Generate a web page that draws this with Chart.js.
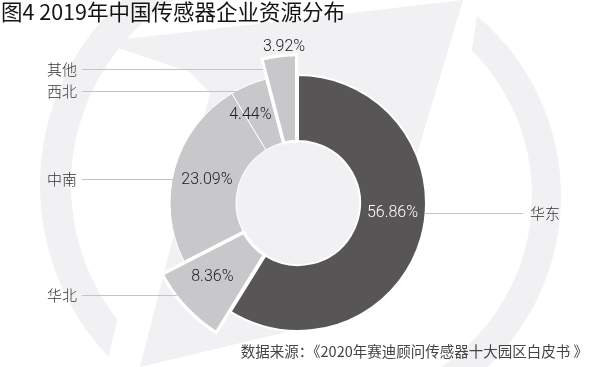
<!DOCTYPE html>
<html lang="zh-CN">
<head>
<meta charset="UTF-8">
<title>图4 2019年中国传感器企业资源分布</title>
<script src="https://cdn.jsdelivr.net/npm/chart.js"></script>
<style>
    * { margin: 0; padding: 0; box-sizing: border-box; }
    body {
        width: 600px;
        height: 367px;
        overflow: hidden;
        background: #fff;
        font-family: 'Noto Sans CJK SC', sans-serif;
    }
    .wrap { position: relative; width: 600px; height: 367px; }
    .wrap svg, .wrap canvas { position: absolute; left: 0; top: 0; }
    .title {
        position: absolute;
        left: 1px;
        top: -2px;
        font-size: 21.5px;
        line-height: 26px;
        font-weight: 400;
        color: #141414;
        white-space: nowrap;
    }
    .source {
        position: absolute;
        right: 12px;
        top: 341px;
        font-size: 14.5px;
        line-height: 20px;
        color: #444;
        white-space: nowrap;
    }
</style>
</head>
<body>
<div class="wrap">
    <!-- faint background watermark -->
    <svg width="600" height="367" viewBox="0 0 600 367">
        <g fill="#f1f1f3">
            <path d="M 108.4 356.8 A 250 250 0 0 1 225.3 -56.5 L 233.3 -26.5 A 219 219 0 0 0 117.4 319.8 Z"/>
            <path d="M 477.1 16 A 235 235 0 0 1 443.5 399.5 L 429 374.4 A 206 206 0 0 0 471.7 50.3 Z"/>
            <polygon points="100,42 463,0 370,312 140,367 210,93 190,72"/>
        </g>
    </svg>
    <canvas id="ringMain" width="600" height="367"></canvas>
    <canvas id="ringNorth" width="600" height="367"></canvas>
    <canvas id="ringOther" width="600" height="367"></canvas>
    <div class="title">图4 2019年中国传感器企业资源分布</div>
    <div class="source">数据来源：《2020年赛迪顾问传感器十大园区白皮书 》</div>
</div>

<script>
    // data
    const regions = ['华东', '华北', '中南', '西北', '其他'];
    const shares = [56.86, 8.36, 23.09, 4.44, 3.92];
    const sliceColors = ['#575556', '#c8c8ca', '#c8c8ca', '#c8c8ca', '#c8c8ca'];

    // layout (pixels)
    const HOLE = 62;                 // inner radius
    const RING = 128;                // normal outer radius
    const popOut = [0, 152, 0, 0, 147]; // enlarged slices
    const EDGE = 3;                  // white edge of enlarged slices
    const pad = { left: 0, right: 4, top: 39, bottom: 0 };

    // label placement: angle shift from slice middle (deg), distance from centre
    const pctPlace = [[-9.8, 95], [2, 113], [-1.6, 94], [-5.6, 100], [2.2, 157]];
    const pctColors = ['#ffffff', '#222', '#222', '#222', '#222'];
    const leaderY = [213, 295, 179, 91, 69];
    const leaderSide = ['right', 'left', 'left', 'left', 'left'];

    const clear = 'rgba(0,0,0,0)';

    function edgeX(el, r, y, side) {
        const dy = y - el.y;
        const a0 = el.startAngle, a1 = el.endAngle;
        if (Math.abs(dy) < r) {
            const dx = Math.sqrt(r * r - dy * dy) * (side === 'left' ? -1 : 1);
            let a = Math.atan2(dy, dx);
            while (a < a0) a += 2 * Math.PI;
            if (a <= a1) return el.x + dx;
        }
        const xs = [a0, a1]
            .filter(a => Math.sin(a) * dy > 0)
            .map(a => el.x + dy * Math.cos(a) / Math.sin(a));
        return side === 'left' ? Math.min(...xs) : Math.max(...xs);
    }

    const labelPlugin = {
        id: 'sliceLabels',
        afterDraw(chart) {
            const ctx = chart.ctx;
            const arcs = chart.getDatasetMeta(0).data;
            ctx.save();
            ctx.textBaseline = 'middle';

            // leader lines + region names
            arcs.forEach((el, i) => {
                const y = leaderY[i] + 0.5;
                const r = popOut[i] || RING - 1;
                const ex = edgeX(el, r, y, leaderSide[i]);
                ctx.strokeStyle = '#c4c4c4';
                ctx.lineWidth = 1;
                ctx.beginPath();
                if (leaderSide[i] === 'left') {
                    ctx.moveTo(82, y);
                    ctx.lineTo(ex, y);
                } else {
                    ctx.moveTo(ex, y);
                    ctx.lineTo(523, y);
                }
                ctx.stroke();
                ctx.fillStyle = '#333';
                ctx.font = '300 15px "Noto Sans CJK SC"';
                ctx.textAlign = leaderSide[i] === 'left' ? 'right' : 'left';
                ctx.fillText(regions[i], leaderSide[i] === 'left' ? 77 : 530, leaderY[i]);
            });

            // percentages
            ctx.font = '300 16px Roboto';
            ctx.textAlign = 'center';
            arcs.forEach((el, i) => {
                const mid = (el.startAngle + el.endAngle) / 2 + pctPlace[i][0] * Math.PI / 180;
                const x = el.x + Math.cos(mid) * pctPlace[i][1];
                const y = el.y + Math.sin(mid) * pctPlace[i][1];
                ctx.fillStyle = pctColors[i];
                ctx.fillText(shares[i].toFixed(2) + '%', x, y);
            });
            ctx.restore();
        }
    };

    function ringChart(id, colors, widths, align, outer, inner, plugins) {
        return new Chart(document.getElementById(id), {
            type: 'doughnut',
            data: {
                labels: regions,
                datasets: [{
                    data: shares,
                    backgroundColor: colors,
                    borderColor: '#ffffff',
                    borderWidth: widths,
                    borderAlign: align
                }]
            },
            options: {
                responsive: false,
                animation: false,
                events: [],
                radius: outer,
                cutout: (inner / outer * 100) + '%',
                layout: { padding: pad },
                plugins: {
                    legend: { display: false },
                    tooltip: { enabled: false }
                }
            },
            plugins: plugins || []
        });
    }

    // main ring, enlarged slices left empty
    ringChart('ringMain',
        sliceColors.map((c, i) => popOut[i] ? clear : c),
        [2, 0, 1, 1, 0], 'center', RING, HOLE);

    // 华北 slice, pulled out further
    ringChart('ringNorth',
        sliceColors.map((c, i) => i === 1 ? c : clear),
        [0, EDGE, 0, 0, 0], 'inner', popOut[1] + EDGE, HOLE - 2);

    // 其他 slice, pulled out further; also carries the labels
    ringChart('ringOther',
        sliceColors.map((c, i) => i === 4 ? c : clear),
        [0, 0, 0, 0, EDGE], 'inner', popOut[4] + EDGE, HOLE - 2, [labelPlugin]);
</script>
</body>
</html>
